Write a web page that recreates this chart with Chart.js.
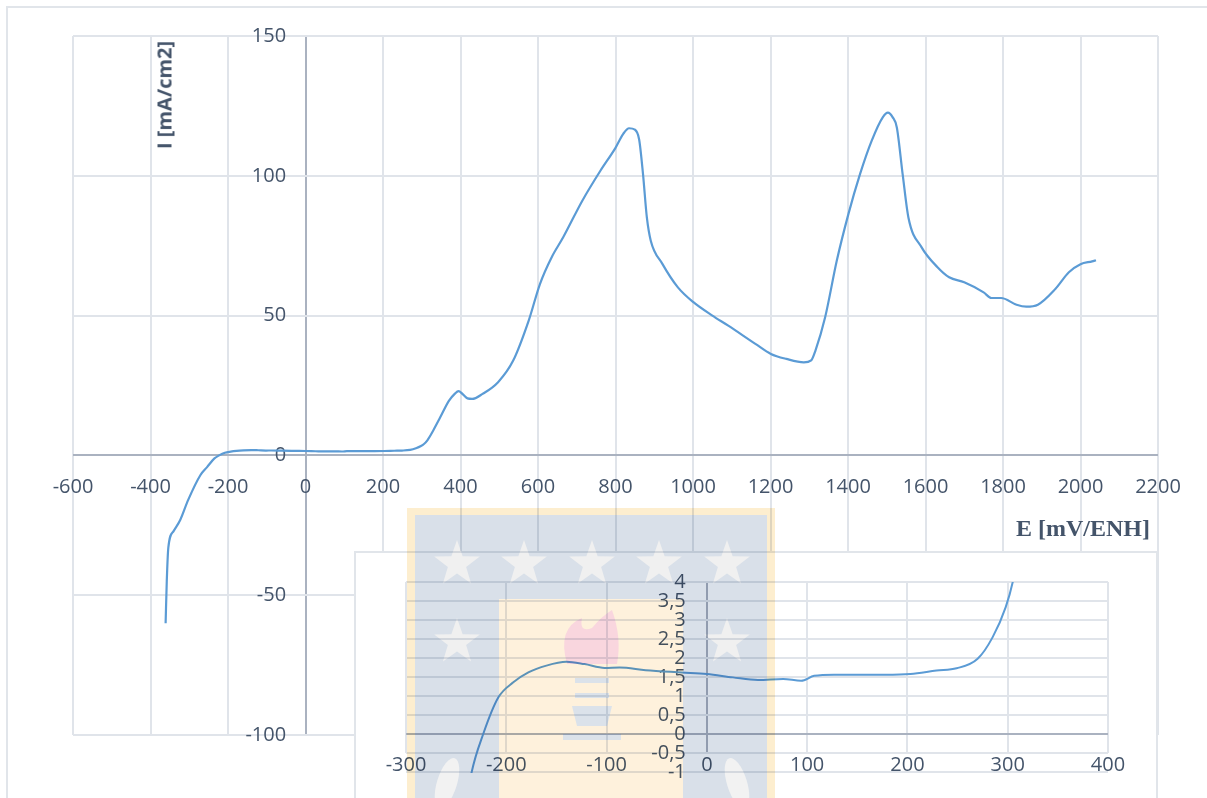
<!DOCTYPE html>
<html>
<head>
<meta charset="utf-8">
<script src="https://cdn.jsdelivr.net/npm/chart.js@4.4.0/dist/chart.umd.min.js"></script>
<style>
    body { margin: 0; width: 1207px; height: 798px; overflow: hidden; background: #fff; position: relative; }
    #marco { position: absolute; left: 6px; top: 6px; width: 1300px; height: 900px; border: 2px solid #e1e5ea; }
    #principal { position: absolute; left: 0; top: 0; }
    #recuadro { position: absolute; left: 354px; top: 551px; width: 800px; height: 300px; background: #fff; border: 2px solid #e1e5ea; }
    #inserto { position: absolute; left: 355px; top: 552px; }
    #marca { position: absolute; left: 407px; top: 508px; mix-blend-mode: multiply; }
    .titulo { position: absolute; color: #44546a; font-weight: bold; white-space: nowrap; }
    #titulo_y { font-family: 'Open Sans', sans-serif; font-size: 20px; left: 164px; top: 95px; transform: translate(-50%, -50%) rotate(-90deg); }
    #titulo_x { font-family: 'Liberation Serif', serif; font-size: 24px; left: 1016px; top: 515px; }
</style>
</head>
<body>
<div id="marco"></div>
<canvas id="principal" width="1207" height="798"></canvas>
<div class="titulo" id="titulo_y">I [mA/cm2]</div>
<div class="titulo" id="titulo_x">E [mV/ENH]</div>
<div id="recuadro"></div>
<canvas id="inserto" width="801" height="246"></canvas>
<canvas id="marca" width="368" height="290"></canvas>
<script>
// DATOS DE LA CURVA (E en mV/ENH, I en mA/cm2)
var potencial = [-361, -358, -354, -340, -323, -303, -271, -254, -235, -223, -208, -193, -178, -160, -140, -122, -102, -87, -61, -25,
    0, 26, 51, 76, 94, 107, 127, 152, 178, 203, 229, 249, 270, 285, 298, 305, 315, 330, 348, 370,
    385, 395, 405, 418, 430, 457, 497, 536, 576, 605, 635, 665, 714, 761, 800, 820, 835, 850, 861, 871,
    881, 891, 921, 961, 1001, 1050, 1091, 1161, 1201, 1241, 1286, 1305, 1316, 1341, 1371, 1401, 1431, 1461, 1490, 1503,
    1515, 1526, 1541, 1556, 1590, 1631, 1661, 1700, 1750, 1770, 1795, 1835, 1860, 1890, 1935, 1970, 2000, 2030, 2040];
var corriente = [-60, -45, -33, -27, -23, -16, -7, -4.2, -1.06, 0, 0.96, 1.36, 1.62, 1.8, 1.9, 1.84, 1.74, 1.75, 1.68, 1.62,
    1.58, 1.49, 1.42, 1.45, 1.40, 1.53, 1.56, 1.56, 1.56, 1.58, 1.67, 1.73, 1.98, 2.55, 3.34, 4.0, 5.5, 9, 13.7, 19.5,
    22, 23, 22, 20.4, 20.2, 22, 26.2, 33.9, 48.2, 61.3, 70.8, 78, 91, 101.8, 110, 115, 117, 116.5, 113, 100.6,
    85, 76.8, 68.5, 60.1, 54.8, 50, 46.4, 39.9, 36.3, 34.5, 33.3, 34, 37.5, 49.4, 69.6, 86.3, 100.6, 112.5, 121, 122.6,
    121, 117.3, 100.6, 85, 74.4, 67.3, 63.7, 61.9, 58.3, 56.3, 56.3, 53.9, 53.2, 53.9, 59.5, 65.5, 68.4, 69.4, 69.8];

// EJES: [min, max, paso]
var ejeX_principal = [-600, 2200, 200];
var ejeY_principal = [-100, 150, 50];
var ejeX_inserto = [-300, 400, 100];
var ejeY_inserto = [-0.5, 4, 0.5];
var etiquetaExtra_inserto = [-1];

var colorTexto = '#44546a';
var colorGrilla = '#e0e4ea';
var colorEje = '#aab2c0';
var fuenteTicks = { family: "'Open Sans', sans-serif", size: 20 };

function Puntos_Curva() {
    var puntos = [];
    potencial.forEach(function(e, i) {
        puntos.push({ x: e, y: corriente[i] });
    });
    return puntos;
}

function Color_Grilla(ctx) {
    return ctx.tick && ctx.tick.value === 0 ? colorEje : colorGrilla;
}

function Texto_Simple(value) {
    return String(value);
}

// GRAFICO PRINCIPAL
function Cargar_Grafico_Principal() {
    var ctx = document.getElementById('principal').getContext('2d');
    new Chart(ctx, {
        type: 'line',
        data: {
            datasets: [{
                data: Puntos_Curva(),
                borderColor: '#5b9bd5',
                borderWidth: 2.2,
                pointRadius: 0,
                fill: false,
                cubicInterpolationMode: 'monotone'
            }]
        },
        options: {
            responsive: false,
            animation: false,
            layout: { padding: { left: 73, right: 49, top: 36, bottom: 63 } },
            plugins: { legend: { display: false }, tooltip: { enabled: false } },
            scales: {
                x: {
                    type: 'linear',
                    min: ejeX_principal[0],
                    max: ejeX_principal[1],
                    position: { y: 0 },
                    border: { display: false },
                    grid: { color: Color_Grilla, lineWidth: 2, drawTicks: false },
                    ticks: { stepSize: ejeX_principal[2], color: colorTexto, font: fuenteTicks, padding: 20, maxRotation: 0, autoSkip: false, callback: Texto_Simple }
                },
                y: {
                    type: 'linear',
                    min: ejeY_principal[0],
                    max: ejeY_principal[1],
                    // etiquetas un poco a la izquierda del eje vertical
                    position: { x: -50 },
                    border: { display: false },
                    grid: { color: Color_Grilla, lineWidth: 2, drawTicks: false },
                    ticks: { stepSize: ejeY_principal[2], color: colorTexto, font: fuenteTicks, callback: Texto_Simple }
                }
            }
        }
    });
}

// GRAFICO INSERTO (ZOOM)
function Cargar_Grafico_Inserto() {
    var ctx = document.getElementById('inserto').getContext('2d');
    new Chart(ctx, {
        type: 'line',
        data: {
            datasets: [{
                data: Puntos_Curva(),
                borderColor: '#5b9bd5',
                borderWidth: 2,
                pointRadius: 0,
                fill: false,
                cubicInterpolationMode: 'monotone',
                clip: { left: 0, top: 0, right: 0, bottom: 20 }
            }]
        },
        options: {
            responsive: false,
            animation: false,
            layout: { padding: { left: 51, right: 48, top: 30, bottom: 45 } },
            plugins: { legend: { display: false }, tooltip: { enabled: false } },
            scales: {
                x: {
                    type: 'linear',
                    min: ejeX_inserto[0],
                    max: ejeX_inserto[1],
                    position: { y: ejeY_inserto[0] },
                    border: { display: false },
                    grid: { color: Color_Grilla, lineWidth: 2, drawTicks: false },
                    ticks: { stepSize: ejeX_inserto[2], color: colorTexto, font: fuenteTicks, padding: 0, maxRotation: 0, autoSkip: false, callback: Texto_Simple }
                },
                y: {
                    type: 'linear',
                    min: ejeY_inserto[0],
                    max: ejeY_inserto[1],
                    position: { x: -21 },
                    border: { display: false },
                    grid: { color: Color_Grilla, lineWidth: 2, drawTicks: false },
                    afterBuildTicks: function(scale) {
                        etiquetaExtra_inserto.forEach(function(v) { scale.ticks.push({ value: v }); });
                    },
                    ticks: {
                        stepSize: ejeY_inserto[2], color: colorTexto, font: fuenteTicks, autoSkip: false,
                        callback: function(value) { return String(value).replace('.', ','); }
                    }
                }
            }
        }
    });
}

// MARCA DE AGUA
function Estrella(c, cx, cy, r) {
    c.beginPath();
    for (var i = 0; i < 10; i++) {
        var rr = i % 2 === 0 ? r : r * 0.4;
        var a = -Math.PI / 2 + i * Math.PI / 5;
        c.lineTo(cx + rr * Math.cos(a), cy + rr * Math.sin(a));
    }
    c.closePath();
    c.fill();
}

function Cargar_Marca() {
    var c = document.getElementById('marca').getContext('2d');
    c.fillStyle = '#fdeecf';
    c.fillRect(0, 0, 368, 290);
    c.fillStyle = '#d9e0e9';
    c.fillRect(8, 7, 352, 290);
    c.fillStyle = '#fef1dc';
    c.fillRect(92, 91, 184, 210);
    c.fillStyle = '#f0f0f0';
    [50, 117, 185, 252, 320].forEach(function(x) { Estrella(c, x, 56, 24); });
    Estrella(c, 50, 134, 24);
    Estrella(c, 320, 134, 24);
    c.fillStyle = '#f9d6de';
    c.beginPath();
    c.moveTo(160, 156);
    c.quadraticCurveTo(150, 120, 175, 110);
    c.quadraticCurveTo(172, 125, 185, 120);
    c.quadraticCurveTo(195, 108, 205, 102);
    c.quadraticCurveTo(215, 130, 210, 156);
    c.closePath();
    c.fill();
    c.fillStyle = '#dbe2ea';
    c.fillRect(168, 170, 34, 5);
    c.fillRect(168, 185, 34, 5);
    c.beginPath();
    c.moveTo(165, 198); c.lineTo(205, 198); c.lineTo(200, 218); c.lineTo(170, 218);
    c.closePath(); c.fill();
    c.fillRect(156, 226, 58, 6);
    c.fillStyle = '#f2f2f2';
    c.beginPath(); c.ellipse(40, 275, 10, 26, 0.3, 0, Math.PI * 2); c.fill();
    c.beginPath(); c.ellipse(330, 275, 10, 26, -0.3, 0, Math.PI * 2); c.fill();
}

Cargar_Grafico_Principal();
Cargar_Grafico_Inserto();
Cargar_Marca();
</script>
</body>
</html>
